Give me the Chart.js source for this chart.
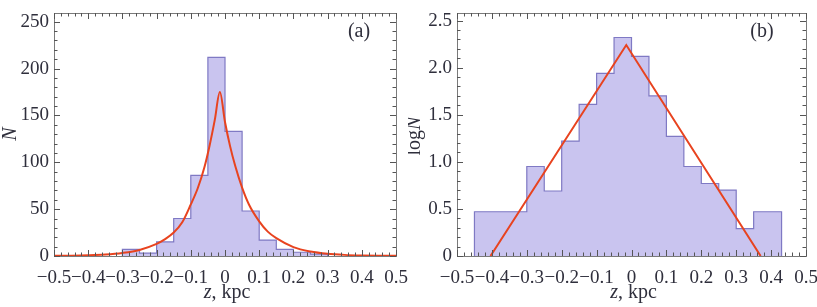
<!DOCTYPE html>
<html>
<head>
<meta charset="utf-8">
<script src="https://cdn.jsdelivr.net/npm/chart.js@4.4.1/dist/chart.umd.min.js"></script>
<style>
body { margin: 0; background: #fff; width: 817px; height: 307px; position: relative; overflow: hidden; }
canvas { position: absolute; top: 0; }
</style>
</head>
<body>
<canvas id="chartA" width="410" height="307" style="left:0px"></canvas>
<canvas id="chartB" width="409" height="307" style="left:408px"></canvas>
<script>
// Panel (a): histogram of N over z (bin edges in kpc)
var edgesA = [-0.3, -0.25, -0.2, -0.15, -0.1, -0.05, 0, 0.05, 0.1, 0.15, 0.2, 0.25, 0.3];
var countsA = [7, 3, 15, 40, 86, 212, 133, 48, 17, 7, 4, 2];

// Panel (a): fitted red curve
var curveZA = [-0.5, -0.45, -0.4, -0.35, -0.3, -0.25, -0.2, -0.175, -0.15, -0.125, -0.1, -0.08, -0.06, -0.045, -0.03, -0.015,
               0, 0.015, 0.03, 0.05, 0.07, 0.1, 0.125, 0.15, 0.2, 0.25, 0.3, 0.35, 0.4, 0.45, 0.5];
var curveNA = [0.2, 0.4, 0.8, 1.6, 3.3, 6.5, 13, 18, 25, 36, 55, 72, 95, 118, 145, 175,
               143, 117, 96, 73, 55, 37, 26, 19, 9.5, 4.8, 2.4, 1.2, 0.6, 0.3, 0.15];

// Panel (b): histogram of log N
var edgesB = [-0.45, -0.4, -0.35, -0.3, -0.25, -0.2, -0.15, -0.1, -0.05, 0, 0.05, 0.1, 0.15, 0.2, 0.25, 0.3, 0.35, 0.43];
var logNB = [0.47, 0.47, 0.47, 0.95, 0.69, 1.22, 1.61, 1.94, 2.32, 2.12, 1.70, 1.27, 0.95, 0.77, 0.70, 0.29, 0.47];

// Panel (b): fitted red line
var curveZB = [-0.404, -0.015, 0.370];
var curveLogB = [0, 2.24, 0];

// tick values
var xTicks = [-0.5, -0.4, -0.3, -0.2, -0.1, 0, 0.1, 0.2, 0.3, 0.4, 0.5];
var yTicksA = [0, 50, 100, 150, 200, 250];
var yTicksB = [0, 0.5, 1.0, 1.5, 2.0, 2.5];

var fillColor = '#c9c4ef';
var edgeColor = '#7f79c4';
var redColor = '#e8431f';
var textColor = '#2f2f3c';
var serif = "'Liberation Serif', 'Times New Roman', serif";
var fontSize = 19;
var titleSize = 20;

// build points for a stepped outline from bin edges and values
function stepPoints(edges, vals) {
    var pts = [{ x: edges[0], y: 0 }];
    for (var i = 0; i < vals.length; i++) {
        pts.push({ x: edges[i], y: vals[i] });
    }
    pts.push({ x: edges[edges.length - 1], y: vals[vals.length - 1] });
    pts.push({ x: edges[edges.length - 1], y: 0 });
    return pts;
}

function zip(xs, ys) {
    return xs.map(function (x, i) { return { x: x, y: ys[i] }; });
}

function fmtZ(v) {
    var r = Math.round(v * 10) / 10;
    if (r === 0) return '0';
    return (r < 0 ? '\u2212' : '') + Math.abs(r).toFixed(1);
}

// frame, inward ticks on all four sides, titles
var framePlugin = {
    id: 'frameTicks',
    afterDatasetsDraw: function (chart, args, opts) {
        var ctx = chart.ctx;
        var a = chart.chartArea;
        var xs = chart.scales.x, ys = chart.scales.y;
        ctx.save();
        ctx.strokeStyle = '#7a7a7a';
        ctx.lineWidth = 1;
        ctx.strokeRect(Math.round(a.left) + 0.5, Math.round(a.top) + 0.5,
                       Math.round(a.right - a.left), Math.round(a.bottom - a.top));
        ctx.strokeStyle = '#555';
        ctx.beginPath();
        var n, i, v, p, len;
        n = Math.round((xs.max - xs.min) / opts.minorX);
        for (i = 0; i <= n; i++) {
            v = xs.min + i * opts.minorX;
            p = Math.round(xs.getPixelForValue(v)) + 0.5;
            len = (i % Math.round(opts.majorX / opts.minorX) === 0) ? 6 : 3.5;
            ctx.moveTo(p, a.bottom); ctx.lineTo(p, a.bottom - len);
            ctx.moveTo(p, a.top); ctx.lineTo(p, a.top + len);
        }
        n = Math.floor((ys.max - ys.min) / opts.minorY + 1e-6);
        for (i = 0; i <= n; i++) {
            v = ys.min + i * opts.minorY;
            p = Math.round(ys.getPixelForValue(v)) + 0.5;
            len = (i % Math.round(opts.majorY / opts.minorY) === 0) ? 6 : 3.5;
            ctx.moveTo(a.left, p); ctx.lineTo(a.left + len, p);
            ctx.moveTo(a.right, p); ctx.lineTo(a.right - len, p);
        }
        ctx.stroke();

        ctx.fillStyle = textColor;
        // panel tag
        ctx.font = titleSize + 'px ' + serif;
        ctx.textAlign = 'center';
        ctx.textBaseline = 'middle';
        ctx.fillText(opts.tag, opts.tagX, 32);

        // x title: italic z + ", kpc"
        ctx.textBaseline = 'alphabetic';
        ctx.textAlign = 'left';
        var cx = (a.left + a.right) / 2 + 2;
        ctx.font = 'italic ' + titleSize + 'px ' + serif;
        var w1 = ctx.measureText('z').width;
        ctx.font = titleSize + 'px ' + serif;
        var w2 = ctx.measureText(', kpc').width;
        var x0 = cx - (w1 + w2) / 2;
        ctx.font = 'italic ' + titleSize + 'px ' + serif;
        ctx.fillText('z', x0, 298);
        ctx.font = titleSize + 'px ' + serif;
        ctx.fillText(', kpc', x0 + w1, 298);

        // y title, rotated
        ctx.translate(opts.yTitleX, opts.yTitleY);
        ctx.rotate(-Math.PI / 2);
        ctx.font = titleSize + 'px ' + serif;
        var wl = ctx.measureText(opts.yPre).width;
        ctx.font = 'italic ' + titleSize + 'px ' + serif;
        var wn = ctx.measureText('N').width;
        var sx = -(wl + wn) / 2;
        ctx.font = titleSize + 'px ' + serif;
        ctx.fillText(opts.yPre, sx, 0);
        ctx.font = 'italic ' + titleSize + 'px ' + serif;
        ctx.fillText('N', sx + wl, 0);
        ctx.restore();
    }
};

function makeChart(id, hist, curve, curveMode, yMax, yTicks, yFmt, yWidth, padRight, frameOpts) {
    return new Chart(document.getElementById(id), {
        type: 'line',
        data: {
            datasets: [{
                data: curve,
                borderColor: redColor,
                borderWidth: 2,
                pointRadius: 0,
                fill: false,
                cubicInterpolationMode: curveMode,
                order: 0
            }, {
                data: hist,
                stepped: 'before',
                borderColor: edgeColor,
                borderWidth: 1.2,
                backgroundColor: fillColor,
                pointRadius: 0,
                fill: 'origin',
                order: 1
            }]
        },
        options: {
            responsive: false,
            animation: false,
            layout: { padding: { top: 13, right: padRight, left: 0, bottom: 0 } },
            plugins: {
                legend: { display: false },
                tooltip: { enabled: false },
                frameTicks: frameOpts
            },
            scales: {
                x: {
                    type: 'linear',
                    min: -0.5,
                    max: 0.5,
                    grid: { display: false, drawTicks: false },
                    border: { display: false },
                    afterFit: function (s) {
                        s.height = 51;
                        s.paddingLeft = 0;
                        s.paddingRight = 0;
                    },
                    afterBuildTicks: function (s) {
                        s.ticks = xTicks.map(function (v) { return { value: v }; });
                    },
                    ticks: {
                        autoSkip: false,
                        maxRotation: 0,
                        padding: 11,
                        color: textColor,
                        font: { family: serif, size: fontSize },
                        callback: function (v) { return fmtZ(v); }
                    }
                },
                y: {
                    min: 0,
                    max: yMax,
                    grid: { display: false, drawTicks: false },
                    border: { display: false },
                    afterFit: function (s) {
                        s.width = yWidth;
                        s.paddingTop = 0;
                        s.paddingBottom = 0;
                    },
                    afterBuildTicks: function (s) {
                        s.ticks = yTicks.map(function (v) { return { value: v }; });
                    },
                    ticks: {
                        autoSkip: false,
                        padding: 5,
                        color: textColor,
                        font: { family: serif, size: fontSize },
                        callback: yFmt
                    }
                }
            }
        },
        plugins: [framePlugin]
    });
}

makeChart('chartA', stepPoints(edgesA, countsA), zip(curveZA, curveNA), 'monotone',
    259.3, yTicksA, function (v) { return String(v); }, 54, 14,
    { minorX: 0.02, majorX: 0.1, minorY: 10, majorY: 50, tag: '(a)', tagX: 359,
      yPre: '', yTitleX: 16, yTitleY: 134 });

makeChart('chartB', stepPoints(edgesB, logNB), zip(curveZB, curveLogB), 'default',
    2.58, yTicksB, function (v) { return v === 0 ? '0' : v.toFixed(1); }, 49, 11,
    { minorX: 0.02, majorX: 0.1, minorY: 0.1, majorY: 0.5, tag: '(b)', tagX: 354,
      yPre: 'log', yTitleX: 12, yTitleY: 136 });
</script>
</body>
</html>
